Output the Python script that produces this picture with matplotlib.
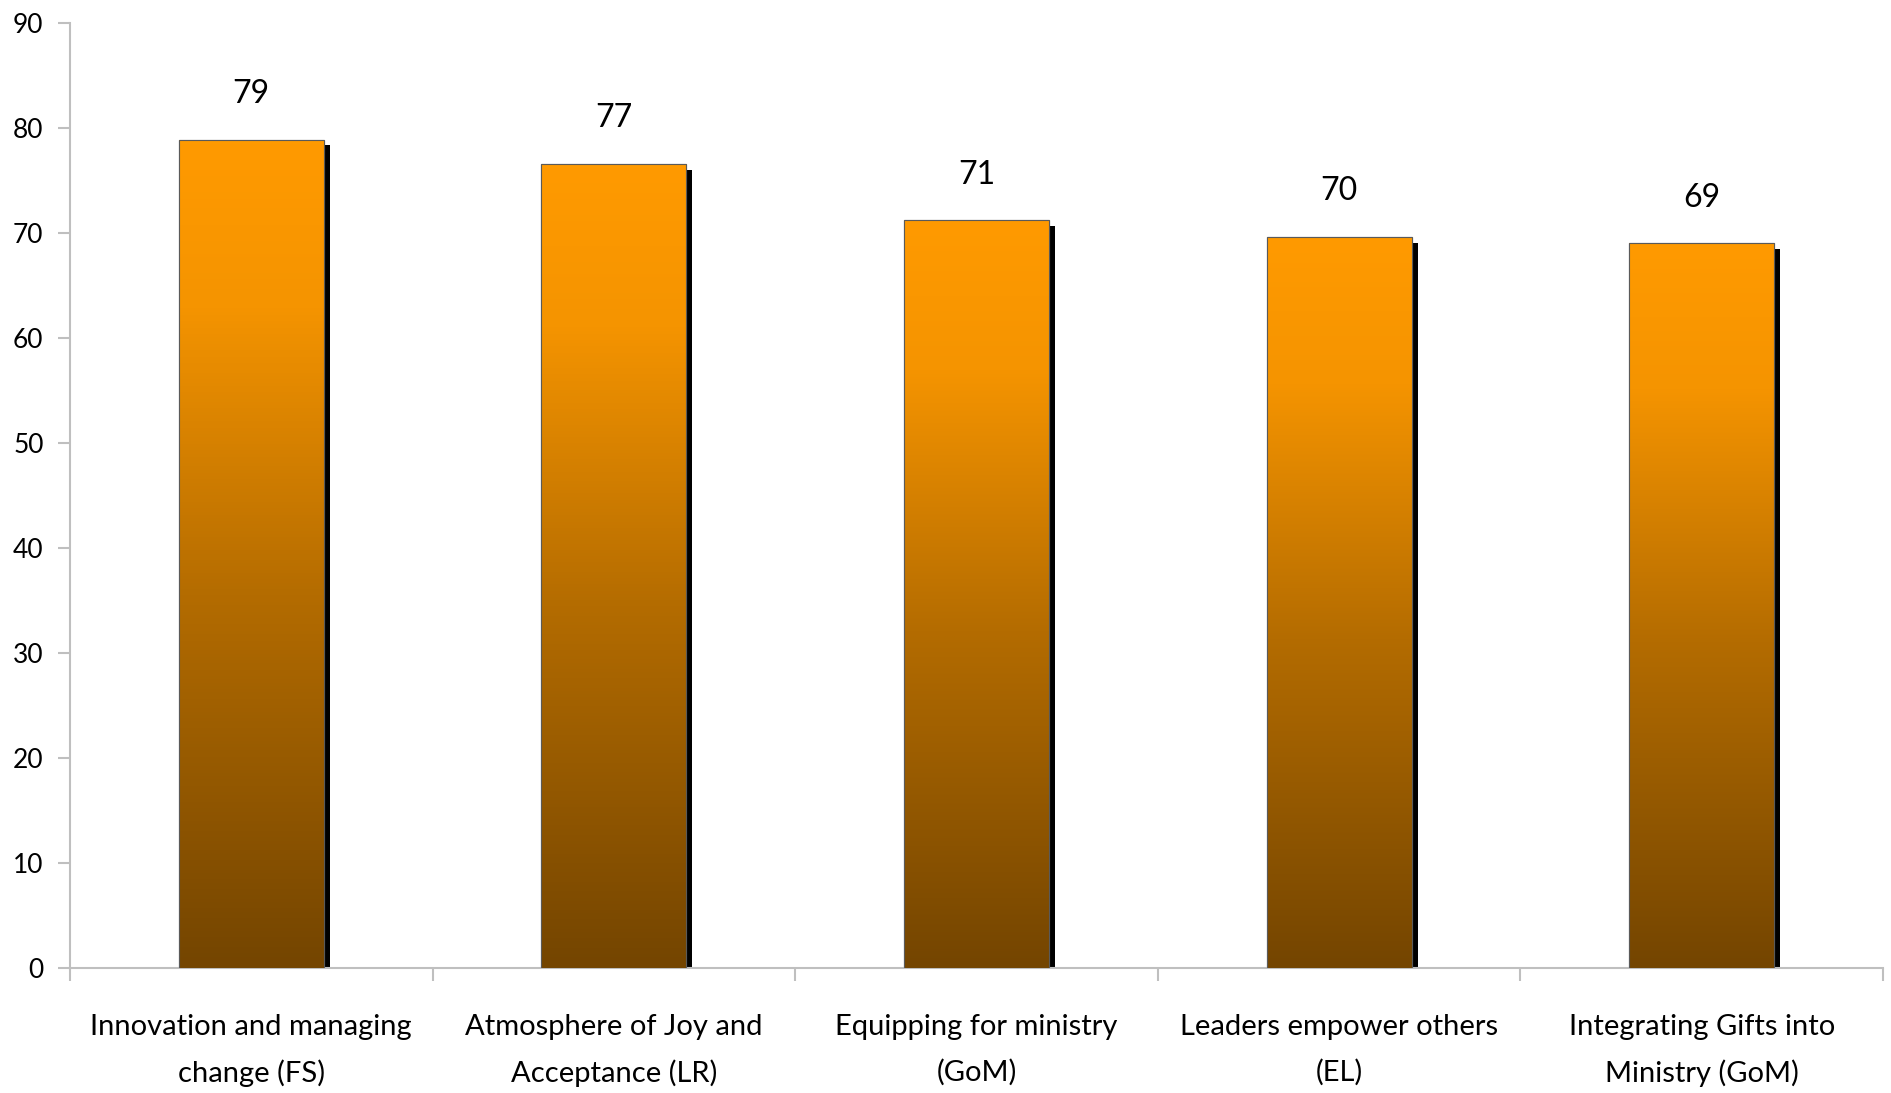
import numpy as np
import matplotlib
matplotlib.use("Agg")
import matplotlib.pyplot as plt
import matplotlib.patheffects as pe
from matplotlib.colors import LinearSegmentedColormap

categories = [
    "Innovation and managing\nchange (FS)",
    "Atmosphere of Joy and\nAcceptance (LR)",
    "Equipping for ministry\n(GoM)",
    "Leaders empower others\n(EL)",
    "Integrating Gifts into\nMinistry (GoM)",
]
values = [78.9, 76.6, 71.2, 69.6, 69.0]
yticks = [0, 10, 20, 30, 40, 50, 60, 70, 80, 90]

AXIS = "#BFBFBF"
EDGE = "#5A5A5A"
grad = LinearSegmentedColormap.from_list(
    "bar", [(0.0, "#744500"), (0.45, "#B46C00"), (0.8, "#F59400"), (1.0, "#FF9A00")])

plt.rcParams["font.family"] = ["Lato", "DejaVu Sans"]

fig = plt.figure(figsize=(18.91, 10.93), dpi=100)
ax = fig.add_axes([0.037, 0.1144, 0.9588, 0.8646])

x = np.arange(len(values))
bars = ax.bar(x, values, width=0.4, color="#FF9900", edgecolor=EDGE,
              linewidth=0.8, zorder=2,
              path_effects=[pe.SimplePatchShadow(offset=(4.3, -4.3), shadow_rgbFace="black",
                                                 alpha=1.0), pe.Normal()])

ramp = np.linspace(0, 1, 256).reshape(-1, 1)
for b in bars:
    x0, w, h = b.get_x(), b.get_width(), b.get_height()
    im = ax.imshow(ramp, cmap=grad, origin="lower", aspect="auto",
                   extent=[x0, x0 + w, 0, h], zorder=3, interpolation="bilinear")
    im.set_clip_path(b)
    # outline on top of the gradient
    ax.add_patch(plt.Rectangle((x0, 0), w, h, fill=False, edgecolor=EDGE,
                               linewidth=0.8, zorder=4))

for xi, v in zip(x, values):
    ax.annotate(f"{v:.0f}", (xi, v), xytext=(0, 33), textcoords="offset points",
                ha="center", va="center", fontsize=23, color="black")

ax.set_xlim(-0.5, len(values) - 0.5)
ax.set_ylim(0, 90)
ax.set_yticks(yticks)
ax.tick_params(axis="y", labelsize=19, length=9, width=1.5, color=AXIS, pad=10)
ax.set_xticks(x)
ax.set_xticklabels(categories, fontsize=21, linespacing=1.85)
ax.tick_params(axis="x", which="major", length=0, pad=33)
ax.set_xticks(np.arange(len(values) + 1) - 0.5, minor=True)
ax.tick_params(axis="x", which="minor", length=9, width=1.5, color=AXIS)

for sp in ("top", "right"):
    ax.spines[sp].set_visible(False)
for sp in ("left", "bottom"):
    ax.spines[sp].set_color(AXIS)
    ax.spines[sp].set_linewidth(1.5)

fig.savefig("out.png", dpi=100)
